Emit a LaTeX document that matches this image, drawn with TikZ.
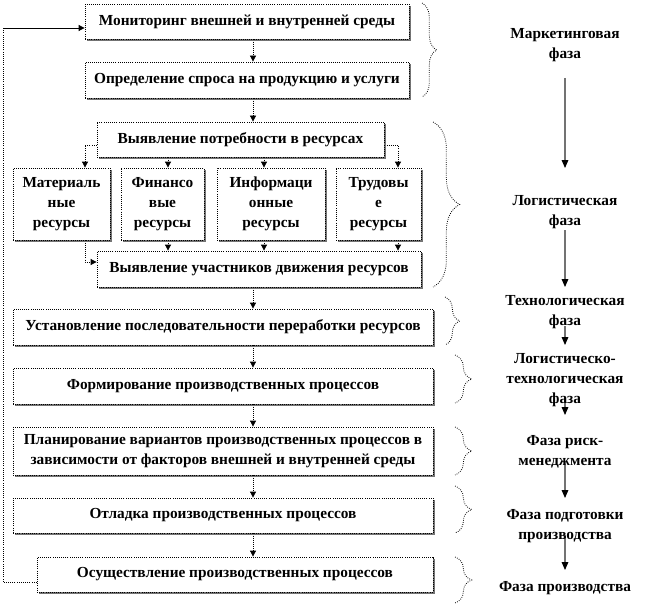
\documentclass[tikz,border=0pt]{standalone}
\usepackage{fontspec}
\setmainfont{Liberation Serif}
\usetikzlibrary{arrows.meta,decorations.pathreplacing,shadows}
\begin{document}
\begin{tikzpicture}[x=0.75pt,y=-0.75pt,
  font=\fontsize{11.5}{15}\selectfont\bfseries,
  box/.style={draw=black, densely dotted, line width=0.6pt, fill=white, inner sep=0pt, align=center,
    drop shadow={shadow xshift=1.2pt, shadow yshift=-1.2pt, fill=black!55, opacity=1}},
  sz/.style 2 args={minimum width=#1*0.75pt, minimum height=#2*0.75pt},
  conn/.style={densely dotted, line width=0.6pt, -{Triangle[length=4.5pt,width=4.5pt]}},
  fback/.style={densely dotted, line width=0.6pt},
  phase/.style={align=center, inner sep=1pt},
  parrow/.style={draw=black!55, line width=0.8pt, -{Triangle[length=6pt,width=5pt,color=black]}},
  brc/.style={decorate, densely dotted, line width=0.6pt},
]
\useasboundingbox (0,0) rectangle (652,606);

% boxes
\node[box, sz={324}{35}] (b1) at (247,21.5) {Мониторинг внешней и внутренней среды};
\node[box, sz={324}{36}] (b2) at (247,80) {Определение спроса на продукцию и услуги};
\node[box, sz={287}{35}] (b3) at (240.5,139.5) {Выявление потребности в ресурсах};
\node[box, sz={97}{72}] (b4) at (61.5,204) {Материаль\\ные\\ресурсы};
\node[box, sz={83}{72}] (b5) at (162.5,204) {Финансо\\вые\\ресурсы};
\node[box, sz={108}{72}] (b6) at (271,204) {Информаци\\онные\\ресурсы};
\node[box, sz={85}{72}] (b7) at (378.5,204) {Трудовы\\е\\ресурсы};
\node[box, sz={324}{36}] (b8) at (259,269) {Выявление участников движения ресурсов};
\node[box, sz={420}{36}] (b9) at (223,327) {Установление последовательности переработки ресурсов};
\node[box, sz={420}{36}] (b10) at (223,386) {Формирование производственных процессов};
\node[box, sz={420}{48}] (b11) at (223,451) {Планирование вариантов производственных процессов в\\зависимости от факторов внешней и внутренней среды};
\node[box, sz={420}{35}] (b12) at (223,515.5) {Отладка производственных процессов};
\node[box, sz={396}{35}] (b13) at (235,574.5) {Осуществление производственных процессов};

% helper coordinates
\coordinate (cx) at (253,0);
\coordinate (xm) at (85,145);
\coordinate (xf) at (168,0);
\coordinate (xi) at (264,0);
\coordinate (xt) at (398,145);
\coordinate (ym) at (0,262);
\coordinate (fbL) at (3,582);
\coordinate (fbT) at (3,28);

% connectors
\draw[conn] (b1.south -| cx) -- (b2.north -| cx);
\draw[conn] (b2.south -| cx) -- (b3.north -| cx);
\draw[conn] (b3.west |- xm) -| (b4.north -| xm);
\draw[conn] (b3.south -| xf) -- (b5.north -| xf);
\draw[conn] (b3.south -| xi) -- (b6.north -| xi);
\draw[conn] (b3.east |- xt) -| (b7.north -| xt);
\draw[conn] (b4.south -| xm) |- (b8.west |- ym);
\draw[conn] (b5.south -| xf) -- (b8.north -| xf);
\draw[conn] (b6.south -| xi) -- (b8.north -| xi);
\draw[conn] (b7.south -| xt) -- (b8.north -| xt);
\draw[conn] (b8.south -| cx) -- (b9.north -| cx);
\draw[conn] (b9.south -| cx) -- (b10.north -| cx);
\draw[conn] (b10.south -| cx) -- (b11.north -| cx);
\draw[conn] (b11.south -| cx) -- (b12.north -| cx);
\draw[conn] (b12.south -| cx) -- (b13.north -| cx);

% feedback loop
\draw[fback] (b13.west |- fbL) -- (fbL) -- (fbT);
\draw[line width=0.6pt, -{Triangle[length=4.5pt,width=4.5pt]}] (fbT) -- (b1.west |- fbT);

% braces
\draw[brc, decoration={brace, amplitude=11pt}] (422,3) -- (422,97);
\draw[brc, decoration={brace, amplitude=20pt}] (433,122) -- (433,287);
\draw[brc, decoration={brace, amplitude=11pt}] (445,297) -- (445,345);
\draw[brc, decoration={brace, amplitude=12.5pt}] (455,355) -- (455,403);
\draw[brc, decoration={brace, amplitude=12.5pt}] (455,427) -- (455,475);
\draw[brc, decoration={brace, amplitude=12.5pt}] (455,486) -- (455,533);
\draw[brc, decoration={brace, amplitude=12.5pt}] (455,557) -- (455,603);

% phase arrows (behind labels)
\draw[parrow] (565,78) -- (565,168);
\draw[parrow] (565,230) -- (565,287);
\draw[parrow] (565,326) -- (565,345);
\draw[parrow] (565,398) -- (565,415);
\draw[parrow] (565,462) -- (565,498);
\draw[parrow] (565,535) -- (565,570);

% phase labels
\node[phase] (ph1) at (565,45) {Маркетинговая\\фаза};
\node[phase] (ph2) at (565,212) {Логистическая\\фаза};
\node[phase] (ph3) at (565,312) {Технологическая\\фаза};
\node[phase] (ph4) at (565,380) {Логистическо-\\технологическая\\фаза};
\node[phase] (ph5) at (565,452) {Фаза риск-\\менеджмента};
\node[phase] (ph6) at (565,526) {Фаза подготовки\\производства};
\node[phase] (ph7) at (565,588) {Фаза производства};
\end{tikzpicture}
\end{document}
